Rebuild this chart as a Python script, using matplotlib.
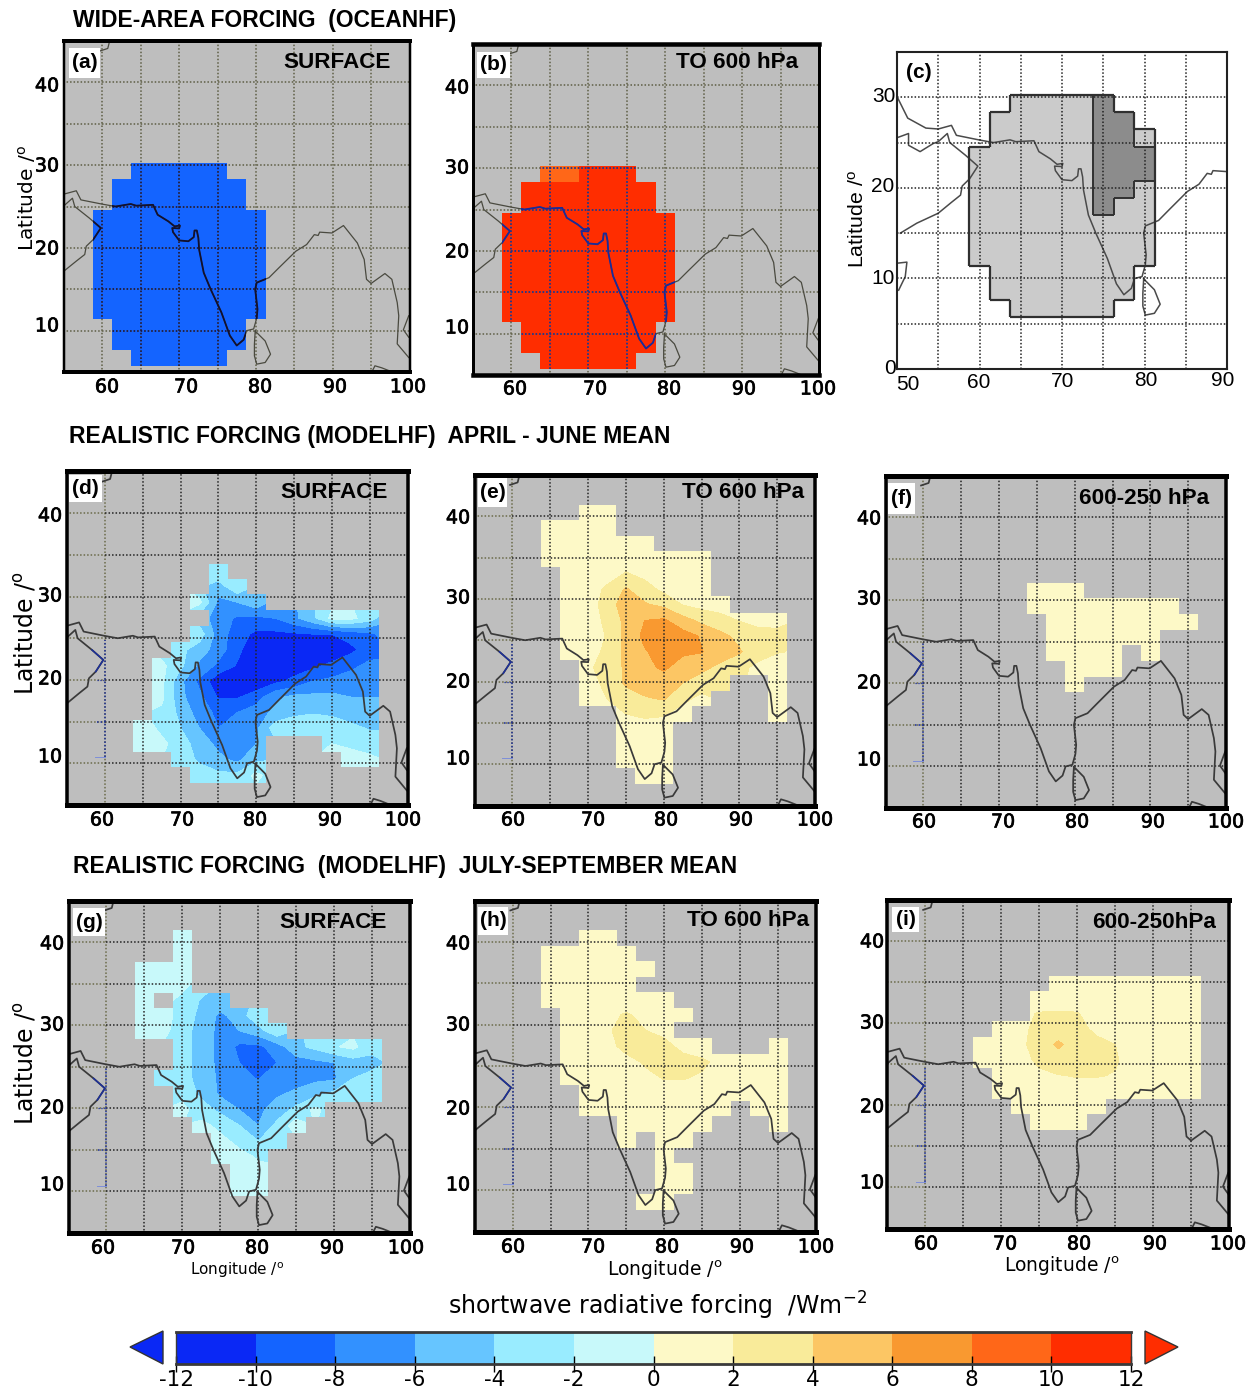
"""Shortwave radiative forcing maps over South Asia: wide-area and realistic patterns."""

import matplotlib

matplotlib.use("Agg")
import matplotlib.patheffects as pe
import matplotlib.pyplot as plt
import numpy as np
from matplotlib.collections import LineCollection
from matplotlib.colors import BoundaryNorm, ListedColormap
from matplotlib.patches import Polygon, Rectangle
from matplotlib.path import Path
from matplotlib.transforms import Affine2D

W, H = 1257, 1393
_ = np.nan

LEVELS = [-12, -10, -8, -6, -4, -2, 0, 2, 4, 6, 8, 10, 12]
COLORS = [
    "#0A28F5", "#1464FF", "#3291FF", "#66C5FF", "#99ECFF", "#C8F9FA",
    "#FDF9C7", "#F9EB9A", "#FCC664", "#F99930", "#FF6718", "#FF2D00",
]
GREY = "#BEBEBE"

# model grid: columns 60..95E, rows north to south
LON_EDGES = [58.75, 61.25, 63.75, 66.25, 68.75, 71.25, 73.75, 76.25, 78.75, 81.25,
             83.75, 86.25, 88.75, 91.25, 93.75, 96.25]
LAT_EDGES = [41.4, 39.5, 37.65, 35.8, 33.9, 32.05, 30.3, 28.35, 26.45, 24.55, 22.65,
             20.75, 18.9, 17.0, 15.15, 13.3, 11.4, 9.5, 7.6, 5.7]

FIELD_A = [
    [_, _, _, _, _, _, _, _, _, _, _, _, _, _, _],
    [_, _, _, _, _, _, _, _, _, _, _, _, _, _, _],
    [_, _, _, _, _, _, _, _, _, _, _, _, _, _, _],
    [_, _, _, _, _, _, _, _, _, _, _, _, _, _, _],
    [_, _, _, _, _, _, _, _, _, _, _, _, _, _, _],
    [_, _, _, _, _, _, _, _, _, _, _, _, _, _, _],
    [_, _, -9, -9, -9, -9, -9, _, _, _, _, _, _, _, _],
    [_, -9, -9, -9, -9, -9, -9, -9, _, _, _, _, _, _, _],
    [_, -9, -9, -9, -9, -9, -9, -9, _, _, _, _, _, _, _],
    [-9, -9, -9, -9, -9, -9, -9, -9, -9, _, _, _, _, _, _],
    [-9, -9, -9, -9, -9, -9, -9, -9, -9, _, _, _, _, _, _],
    [-9, -9, -9, -9, -9, -9, -9, -9, -9, _, _, _, _, _, _],
    [-9, -9, -9, -9, -9, -9, -9, -9, -9, _, _, _, _, _, _],
    [-9, -9, -9, -9, -9, -9, -9, -9, -9, _, _, _, _, _, _],
    [-9, -9, -9, -9, -9, -9, -9, -9, -9, _, _, _, _, _, _],
    [-9, -9, -9, -9, -9, -9, -9, -9, -9, _, _, _, _, _, _],
    [_, -9, -9, -9, -9, -9, -9, -9, _, _, _, _, _, _, _],
    [_, -9, -9, -9, -9, -9, -9, -9, _, _, _, _, _, _, _],
    [_, _, -9, -9, -9, -9, -9, _, _, _, _, _, _, _, _],
]
FIELD_B = [
    [_, _, _, _, _, _, _, _, _, _, _, _, _, _, _],
    [_, _, _, _, _, _, _, _, _, _, _, _, _, _, _],
    [_, _, _, _, _, _, _, _, _, _, _, _, _, _, _],
    [_, _, _, _, _, _, _, _, _, _, _, _, _, _, _],
    [_, _, _, _, _, _, _, _, _, _, _, _, _, _, _],
    [_, _, _, _, _, _, _, _, _, _, _, _, _, _, _],
    [_, _, 9, 9, 11, 11, 11, _, _, _, _, _, _, _, _],
    [_, 11, 11, 11, 11, 11, 11, 11, _, _, _, _, _, _, _],
    [_, 11, 11, 11, 11, 11, 11, 11, _, _, _, _, _, _, _],
    [11, 11, 11, 11, 11, 11, 11, 11, 11, _, _, _, _, _, _],
    [11, 11, 11, 11, 11, 11, 11, 11, 11, _, _, _, _, _, _],
    [11, 11, 11, 11, 11, 11, 11, 11, 11, _, _, _, _, _, _],
    [11, 11, 11, 11, 11, 11, 11, 11, 11, _, _, _, _, _, _],
    [11, 11, 11, 11, 11, 11, 11, 11, 11, _, _, _, _, _, _],
    [11, 11, 11, 11, 11, 11, 11, 11, 11, _, _, _, _, _, _],
    [11, 11, 11, 11, 11, 11, 11, 11, 11, _, _, _, _, _, _],
    [_, 11, 11, 11, 11, 11, 11, 11, _, _, _, _, _, _, _],
    [_, 11, 11, 11, 11, 11, 11, 11, _, _, _, _, _, _, _],
    [_, _, 11, 11, 11, 11, 11, _, _, _, _, _, _, _, _],
]
# 1 = wide area, 2 = core area
AREA_C = [
    [_, _, _, _, _, _, _, _, _, _, _, _, _, _, _],
    [_, _, _, _, _, _, _, _, _, _, _, _, _, _, _],
    [_, _, _, _, _, _, _, _, _, _, _, _, _, _, _],
    [_, _, _, _, _, _, _, _, _, _, _, _, _, _, _],
    [_, _, _, _, _, _, _, _, _, _, _, _, _, _, _],
    [_, _, _, _, _, _, _, _, _, _, _, _, _, _, _],
    [_, _, 1, 1, 1, 1, 2, _, _, _, _, _, _, _, _],
    [_, 1, 1, 1, 1, 1, 2, 2, _, _, _, _, _, _, _],
    [_, 1, 1, 1, 1, 1, 2, 2, 1, _, _, _, _, _, _],
    [1, 1, 1, 1, 1, 1, 2, 2, 2, _, _, _, _, _, _],
    [1, 1, 1, 1, 1, 1, 2, 2, 2, _, _, _, _, _, _],
    [1, 1, 1, 1, 1, 1, 2, 2, 1, _, _, _, _, _, _],
    [1, 1, 1, 1, 1, 1, 2, 1, 1, _, _, _, _, _, _],
    [1, 1, 1, 1, 1, 1, 1, 1, 1, _, _, _, _, _, _],
    [1, 1, 1, 1, 1, 1, 1, 1, 1, _, _, _, _, _, _],
    [1, 1, 1, 1, 1, 1, 1, 1, 1, _, _, _, _, _, _],
    [_, 1, 1, 1, 1, 1, 1, 1, _, _, _, _, _, _, _],
    [_, 1, 1, 1, 1, 1, 1, 1, _, _, _, _, _, _, _],
    [_, _, 1, 1, 1, 1, 1, _, _, _, _, _, _, _, _],
]
FIELD_D = [
    [_, _, _, _, _, _, _, _, _, _, _, _, _, _, _],
    [_, _, _, _, _, _, _, _, _, _, _, _, _, _, _],
    [_, _, _, _, _, _, _, _, _, _, _, _, _, _, _],
    [_, _, _, _, _, _, _, _, _, _, _, _, _, _, _],
    [_, _, _, _, _, _, -2.5, _, _, _, _, _, _, _, _],
    [_, _, _, _, _, _, -5, -2.5, _, _, _, _, _, _, _],
    [_, _, _, _, _, -1.5, -6.5, -6, -4.5, _, _, _, _, _, _],
    [_, _, _, _, _, _, -7, -8.3, -8.5, -8, -6.5, -4.5, -1.5, -1.5, -3],
    [_, _, _, _, _, -3, -7, -9, -10.5, -10.5, -10.3, -10, -10, -9.2, -8.5],
    [_, _, _, _, -3.5, -5, -7, -9.5, -11.5, -11.5, -11.5, -11.5, -11.5, -10.5, -9],
    [_, _, _, -1.5, -3.5, -6.5, -8.5, -10.2, -11.5, -11.5, -11, -10.5, -9.5, -8.5, -7.5],
    [_, _, _, -1.5, -5.5, -8.5, -11.5, -11.5, -11.5, -10.5, -9.5, -8, -7.5, -7, -6.5],
    [_, _, _, -1.5, -5.5, -7.5, -10.2, -10.2, -9, -6.5, -5.5, -5.5, -5.5, -6, -6],
    [_, _, _, -2.5, -4.5, -7, -8.5, -8, -7, -5.5, -4.5, -4.2, -4.5, -5, -5.5],
    [_, _, -1, -2.5, -4, -6, -8, -7.5, -6.5, -3, -2.5, -2, -2.5, -3.5, -4.2],
    [_, _, -1, -1.5, -3, -5, -6.5, -7, -6, _, _, _, -2, -2.5, -3],
    [_, _, _, _, -2.5, -4.5, -5.5, -6.5, -4.5, _, _, _, _, -1, -1.5],
    [_, _, _, _, _, -2.5, -3.5, -3.5, -1.5, _, _, _, _, _, _],
    [_, _, _, _, _, _, _, _, _, _, _, _, _, _, _],
]
FIELD_E = [
    [_, _, _, _, 0.5, 0.5, _, _, _, _, _, _, _, _, _],
    [_, _, 1, 1, 1, 1, _, _, _, _, _, _, _, _, _],
    [_, _, 1, 1, 1, 1, 1, 1, _, _, _, _, _, _, _],
    [_, _, 0.8, 0.8, 0.8, 0.8, 1, 0.8, 0.8, 0.8, 0.8, _, _, _, _],
    [_, _, _, 0.5, 0.8, 1, 2.2, 1.5, 1, 0.8, 0.5, _, _, _, _],
    [_, _, _, 0.5, 0.8, 2.4, 4.2, 2.8, 1.5, 1, 0.8, _, _, _, _],
    [_, _, _, 0.5, 0.8, 3, 5, 4.2, 3.5, 1.9, 1.3, 1, _, _, _],
    [_, _, _, 0.5, 0.8, 2.5, 4.5, 6, 6.3, 4.8, 3.5, 2.8, 1.9, 1.5, 1.5],
    [_, _, _, 0.5, 1, 2.1, 4.5, 6.5, 7.5, 6.8, 5.8, 4.5, 3.5, 2.6, 2.5],
    [_, _, _, 0.5, 1, 2.5, 4.5, 5.8, 7, 6.3, 6.1, 5, 4.2, 2.8, 2.1],
    [_, _, _, _, 1.5, 3.2, 4.2, 5.5, 6.3, 5.2, 4.5, 3.5, 2.5, 1.5, 1],
    [_, _, _, _, 1.2, 2.5, 4.3, 5, 5, 4, 3, 2, _, _, 0.5],
    [_, _, _, _, 0.8, 2, 3, 3.8, 4.2, 2.5, 1.5, _, _, _, 0.5],
    [_, _, _, _, _, _, 2, 2.4, 2.2, 1.2, _, _, _, _, 0.4],
    [_, _, _, _, _, _, 1, 1, 1, _, _, _, _, _, _],
    [_, _, _, _, _, _, 1, 1, 0.8, _, _, _, _, _, _],
    [_, _, _, _, _, _, 0.8, 0.8, 0.8, _, _, _, _, _, _],
    [_, _, _, _, _, _, _, 0.5, 0.5, _, _, _, _, _, _],
    [_, _, _, _, _, _, _, _, _, _, _, _, _, _, _],
]
FIELD_F = [
    [_, _, _, _, _, _, _, _, _, _, _, _, _, _, _],
    [_, _, _, _, _, _, _, _, _, _, _, _, _, _, _],
    [_, _, _, _, _, _, _, _, _, _, _, _, _, _, _],
    [_, _, _, _, _, _, _, _, _, _, _, _, _, _, _],
    [_, _, _, _, _, _, _, _, _, _, _, _, _, _, _],
    [_, _, _, _, _, _, 1, 1, 1, _, _, _, _, _, _],
    [_, _, _, _, _, _, 1, 1, 1, 1, 1, 1, 1, 1, _],
    [_, _, _, _, _, _, _, 1, 1, 1, 1, 1, 1, 1, 1],
    [_, _, _, _, _, _, _, 1, 1, 1, 1, 1, 1, _, _],
    [_, _, _, _, _, _, _, 1, 1, 1, 1, _, 1, _, _],
    [_, _, _, _, _, _, _, _, 1, 1, 1, _, _, _, _],
    [_, _, _, _, _, _, _, _, 1, _, _, _, _, _, _],
    [_, _, _, _, _, _, _, _, _, _, _, _, _, _, _],
    [_, _, _, _, _, _, _, _, _, _, _, _, _, _, _],
    [_, _, _, _, _, _, _, _, _, _, _, _, _, _, _],
    [_, _, _, _, _, _, _, _, _, _, _, _, _, _, _],
    [_, _, _, _, _, _, _, _, _, _, _, _, _, _, _],
    [_, _, _, _, _, _, _, _, _, _, _, _, _, _, _],
    [_, _, _, _, _, _, _, _, _, _, _, _, _, _, _],
]
FIELD_G = [
    [_, _, _, _, -1, _, _, _, _, _, _, _, _, _, _],
    [_, _, _, _, -1, _, _, _, _, _, _, _, _, _, _],
    [_, _, -1, -1, -1, _, _, _, _, _, _, _, _, _, _],
    [_, _, -1, -1, -1.5, _, _, _, _, _, _, _, _, _, _],
    [_, _, -1, _, -2.5, -4.2, -4.5, _, _, _, _, _, _, _, _],
    [_, _, -1, -1, -3, -4.5, -6.5, -5, -2.5, _, _, _, _, _, _],
    [_, _, -1, -1.5, -3, -5, -6.5, -6, -4.8, -2.5, _, _, _, _, _],
    [_, _, _, _, -3, -5, -6.5, -8.5, -8.5, -7, -4.5, -3.5, -2.2, -1.5, -3.5],
    [_, _, _, _, -3, -5, -6.5, -8, -9, -8, -7, -6.5, -6, -5, -4.5],
    [_, _, _, -2.5, -3.5, -4.5, -6.5, -7.5, -8.1, -7, -7, -6.5, -6.3, -4, -3.5],
    [_, _, _, _, -2.5, -4.5, -6.3, -7.5, -7, -6.3, -5.5, -4.5, -3.5, -3, -2],
    [_, _, _, _, -1.5, -3, -4.5, -6, -6.5, -5, -3.5, -1.5, _, _, _],
    [_, _, _, _, _, -1.5, -2.5, -4, -6, -3.5, -1, _, _, _, _],
    [_, _, _, _, _, _, -1.5, -2.5, -4, -2.5, _, _, _, _, _],
    [_, _, _, _, _, _, -1, -1.5, -2.2, _, _, _, _, _, _],
    [_, _, _, _, _, _, _, -1.2, -1.5, _, _, _, _, _, _],
    [_, _, _, _, _, _, _, -1, -1, _, _, _, _, _, _],
    [_, _, _, _, _, _, _, _, _, _, _, _, _, _, _],
    [_, _, _, _, _, _, _, _, _, _, _, _, _, _, _],
]
FIELD_H = [
    [_, _, _, _, 1, 1, _, _, _, _, _, _, _, _, _],
    [_, _, 1, 1, 1, 1, 1, _, _, _, _, _, _, _, _],
    [_, _, 1, 1, 1, 1, 1, 1, _, _, _, _, _, _, _],
    [_, _, 1, 1, 1.5, 1, 1, _, _, _, _, _, _, _, _],
    [_, _, 1, 1, 1, 1, 1, 1, 1, _, _, _, _, _, _],
    [_, _, _, 1, 1, 1.5, 2.2, 1.5, 1, 1, _, _, _, _, _],
    [_, _, _, 1, 1, 1.8, 2.6, 2, 1.5, _, _, _, _, _, _],
    [_, _, _, 1, 1, 1.5, 2.5, 2.6, 2.5, 1.5, 1, _, _, _, 1],
    [_, _, _, 1, 1, 1.2, 1.5, 2.2, 2.5, 2.6, 2.3, 1.5, 1, 1, 1],
    [_, _, _, 1, 1, 1, 1.2, 1.6, 2.1, 2.1, 1.8, 1.2, 1.5, 1, 1],
    [_, _, _, _, 1, 1, 1, 1.2, 1.4, 1.3, 1, 1, 1, 1, 1],
    [_, _, _, _, 1, 1, 1, 1, 1, 1, 1, 1, _, 1, 1],
    [_, _, _, _, _, _, 1, 1, 1, 1, 1, _, _, _, 1],
    [_, _, _, _, _, _, 1, _, 1, 1, _, _, _, _, _],
    [_, _, _, _, _, _, _, _, 1, _, _, _, _, _, _],
    [_, _, _, _, _, _, _, _, 1, 1, _, _, _, _, _],
    [_, _, _, _, _, _, _, _, 1, 1, _, _, _, _, _],
    [_, _, _, _, _, _, _, 1, 1, _, _, _, _, _, _],
    [_, _, _, _, _, _, _, _, _, _, _, _, _, _, _],
]
FIELD_I = [
    [_, _, _, _, _, _, _, _, _, _, _, _, _, _, _],
    [_, _, _, _, _, _, _, _, _, _, _, _, _, _, _],
    [_, _, _, _, _, _, _, _, _, _, _, _, _, _, _],
    [_, _, _, _, _, _, _, 1, 1, 1, 1, 1, 1, 1, 1],
    [_, _, _, _, _, _, 1, 1, 1, 1, 1, 1, 1, 1, 1],
    [_, _, _, _, _, _, 2.1, 2.2, 2.1, 1.2, 1, 1, 1, 1, 1],
    [_, _, _, _, 1, 1.4, 2.7, 3, 2.6, 1.6, 1.2, 1, 1, 1, 1],
    [_, _, _, 1, 1, 1.5, 3, 4.3, 3.2, 2.5, 2, 1.2, 1, 1, 1],
    [_, _, _, 1, 1, 1.3, 2.4, 3.2, 3.2, 2.9, 2.2, 1.2, 1, 1, 1],
    [_, _, _, _, 1, 1.2, 1.6, 1.9, 2.1, 2.1, 1.9, 1, 1, 1, 1],
    [_, _, _, _, 1, 1, 1, 1.2, 1.3, 1.2, 1, 1, 1, 1, 1],
    [_, _, _, _, _, 1, 1, 1, 1, 1, _, _, _, _, _],
    [_, _, _, _, _, _, 1, 1, 1, _, _, _, _, _, _],
    [_, _, _, _, _, _, _, _, _, _, _, _, _, _, _],
    [_, _, _, _, _, _, _, _, _, _, _, _, _, _, _],
    [_, _, _, _, _, _, _, _, _, _, _, _, _, _, _],
    [_, _, _, _, _, _, _, _, _, _, _, _, _, _, _],
    [_, _, _, _, _, _, _, _, _, _, _, _, _, _, _],
    [_, _, _, _, _, _, _, _, _, _, _, _, _, _, _],
]

# coastlines as (lon, lat)
COAST_IRAN = [(50.1, 29.9), (51.3, 27.7), (53.5, 26.6), (55.0, 26.5), (56.6, 26.9),
              (57.2, 25.8), (59.9, 25.3), (61.7, 25.0), (63.7, 25.3), (64.4, 25.1), (66.6, 25.2),
              (67.2, 24.0), (68.6, 23.2), (69.4, 22.6), (70.1, 22.7), (70.0, 22.35), (69.1, 22.4),
              (69.2, 21.9), (70.0, 20.9), (71.2, 20.8), (71.9, 21.3), (72.0, 22.1), (72.3, 22.1), (72.5, 21.2),
              (72.6, 19.8), (73.2, 17.0), (74.1, 15.0), (75.5, 12.2), (76.6, 9.4),
              (77.5, 8.2), (78.4, 8.9), (78.8, 10.0), (79.7, 10.2), (80.1, 11.5), (80.2, 12.6),
              (79.9, 15.0), (80.1, 15.8), (81.7, 16.4), (83.0, 17.6), (85.2, 19.6),
              (86.6, 20.4), (87.6, 21.6), (88.1, 21.5), (88.3, 21.9), (89.9, 21.8),
              (91.4, 22.7), (93.2, 20.6), (94.1, 18.6), (94.4, 16.2), (95.0, 15.7),
              (96.8, 16.9), (97.7, 16.2), (98.4, 13.4), (98.6, 11.8), (98.4, 8.4),
              (99.9, 6.75)]
COAST_ARABIA = [(50.2, 25.6), (51.4, 26.0), (51.4, 24.7), (52.8, 24.0), (54.4, 24.9),
                (55.0, 25.1), (56.1, 26.0), (56.4, 25.0), (58.3, 23.6), (59.8, 22.4),
                (58.8, 21.0), (57.9, 20.2), (57.7, 19.2), (56.6, 18.4), (55.0, 17.2),
                (52.4, 16.1), (50.4, 15.0)]
SRI_LANKA = [(79.9, 9.95), (81.2, 8.75), (81.9, 7.15), (81.2, 6.15), (80.1, 5.95),
             (79.8, 6.95), (79.8, 8.35), (79.9, 9.95)]
COAST_TOP = [(61.0, 45.2), (60.7, 44.1), (59.7, 43.8)]
COAST_SOMALIA = [(50.2, 11.7), (51.2, 11.8), (51.0, 10.2), (50.2, 8.7)]
COAST_SE = [(95.2, 5.2), (95.5, 5.75), (96.4, 5.5), (97.5, 5.1)]
COAST_THAI = [(99.9, 11.8), (99.2, 10.1), (99.9, 9.2)]

# panel tables, all pixel positions measured from top left of the figure
PANEL_BOX = {
    "a": (64, 41, 409.5, 372), "b": (473, 44, 819, 375), "c": (897, 52, 1227, 369),
    "d": (67, 471.5, 407.5, 805), "e": (474.5, 475, 815, 805.5),
    "f": (885.5, 475.5, 1226, 808), "g": (68.5, 900.5, 410, 1233),
    "h": (474.7, 900.5, 816, 1231.5), "i": (887.5, 900, 1229, 1228.5),
}
X_LABELS = [60, 70, 80, 90, 100]
Y_LABELS = [40, 30, 20, 10]
X_LABEL_POS = {
    "a": ([107, 186, 260, 335, 408], 387), "b": ([515, 595, 669, 744, 818], 389),
    "d": ([102, 182, 255, 330, 403], 820), "e": ([513, 593, 666, 741, 815], 820),
    "f": ([924, 1003, 1077, 1153, 1226], 822), "g": ([103, 183, 257, 332, 406], 1248),
    "h": ([513, 593, 667, 742, 816], 1247), "i": ([926, 1005, 1079, 1155, 1228], 1244),
}
Y_LABEL_POS = {
    "a": (47, [86, 166, 249, 326]), "b": (457, [88, 168, 252, 328]),
    "d": (50, [516, 596, 679, 757]), "e": (458, [518, 598, 682, 759]),
    "f": (869, [519, 599, 683, 760]), "g": (52, [944, 1025, 1108, 1185]),
    "h": (458, [944, 1025, 1109, 1185]), "i": (872, [942, 1023, 1107, 1183]),
}
LETTER_BOX = {
    "a": (69, 48, 100, 78), "b": (477, 52, 510, 78), "d": (69, 475, 102, 502),
    "e": (478, 478, 507, 507), "f": (888, 483, 915, 514), "g": (73, 908, 105, 936),
    "h": (478, 907, 508, 935), "i": (892, 907, 919, 932),
}
HEADINGS = {
    "a": ("SURFACE", 337, 63), "b": ("TO 600 hPa", 737, 62), "d": ("SURFACE", 334, 493),
    "e": ("TO 600 hPa", 743, 493), "f": ("600-250 hPa", 1144, 498),
    "g": ("SURFACE", 333, 923), "h": ("TO 600 hPa", 748, 921), "i": ("600-250hPa", 1154, 923),
}
ROW_TITLES = [
    ("WIDE-AREA FORCING  (OCEANHF)", 73, 20),
    ("REALISTIC FORCING (MODELHF)  APRIL - JUNE MEAN", 69, 437),
    ("REALISTIC FORCING  (MODELHF)  JULY-SEPTEMBER MEAN", 73, 866),
]

plt.rcParams["font.family"] = ["DejaVu Sans"]
fig = plt.figure(figsize=(W / 100, H / 100), dpi=100)
cmap = ListedColormap(COLORS)
norm = BoundaryNorm(LEVELS, cmap.N)
GRID_STYLE = (0, (1.0, 1.3))


def px_text(x, y, s, **kw):
    kw.setdefault("ha", "center")
    kw.setdefault("va", "center")
    return fig.text(x / W, 1 - y / H, s, **kw)


def px_axes(x0, y0, x1, y1):
    return fig.add_axes([x0 / W, 1 - y1 / H, (x1 - x0) / W, (y1 - y0) / H])


def cell_path(rows):
    """Union of the filled grid cells, used to clip overlays to the forcing area."""
    z = np.array(rows, float)
    parts = []
    for j, i in zip(*np.nonzero(~np.isnan(z))):
        parts.append(Path.unit_rectangle().transformed(
            Affine2D()
            .scale(LON_EDGES[i + 1] - LON_EDGES[i], LAT_EDGES[j] - LAT_EDGES[j + 1])
            .translate(LON_EDGES[i], LAT_EDGES[j + 1])
        ))
    return Path.make_compound_path(*parts)


def block_edges(mask):
    """Line segments around the cells that are True."""
    m = np.pad(mask, 1, constant_values=False)
    lon = LON_EDGES
    lat = LAT_EDGES
    segs = []
    for j in range(mask.shape[0]):
        for i in range(mask.shape[1]):
            if not m[j + 1, i + 1]:
                continue
            if not m[j, i + 1]:
                segs.append([(lon[i], lat[j]), (lon[i + 1], lat[j])])
            if not m[j + 2, i + 1]:
                segs.append([(lon[i], lat[j + 1]), (lon[i + 1], lat[j + 1])])
            if not m[j + 1, i]:
                segs.append([(lon[i], lat[j]), (lon[i], lat[j + 1])])
            if not m[j + 1, i + 2]:
                segs.append([(lon[i + 1], lat[j]), (lon[i + 1], lat[j + 1])])
    return segs


def draw_coast(ax, color, lw, clip=None, zorder=5):
    for line in (COAST_IRAN, COAST_ARABIA, SRI_LANKA, COAST_TOP, COAST_SOMALIA, COAST_SE, COAST_THAI):
        xy = np.array(line)
        art, = ax.plot(xy[:, 0], xy[:, 1], color=color, lw=lw, zorder=zorder, solid_joinstyle="round")
        if clip is not None:
            art.set_clip_path(clip, ax.transData)


def draw_grid(ax, color, left_color=None, lw=1.1, clip=None, zorder=4):
    arts = []
    for lon in range(60, 100, 5):
        c = left_color if (left_color and lon == 60) else color
        arts += ax.plot([lon, lon], [4, 46], color=c, lw=lw, ls=GRID_STYLE, zorder=zorder)
    for lat in range(10, 45, 5):
        arts += ax.plot([60, 101], [lat, lat], color=color, lw=lw, ls=GRID_STYLE, zorder=zorder)
        arts += ax.plot([54, 60], [lat, lat], color=left_color or color, lw=lw, ls=GRID_STYLE, zorder=zorder)
    if clip is not None:
        for art in arts:
            art.set_clip_path(clip, ax.transData)


def smooth_field(ax, rows):
    """Filled bands on the cell centres, with land outside the area greyed over."""
    z = np.pad(np.array(rows, float), 1, constant_values=np.nan)
    missing = np.isnan(z)
    filled = z.copy()
    # hidden cells only: give them neighbour values so bands run out to the cell edge
    while np.isnan(filled).any():
        known = ~np.isnan(filled)
        total = np.zeros_like(filled)
        count = np.zeros_like(filled)
        for dj in (-1, 0, 1):
            for di in (-1, 0, 1):
                total += np.roll(np.roll(np.nan_to_num(filled), dj, 0), di, 1)
                count += np.roll(np.roll(known, dj, 0), di, 1)
        with np.errstate(invalid="ignore", divide="ignore"):
            guess = total / count
        filled = np.where(known, filled, guess)
    lon_e = np.array(LON_EDGES)
    lat_e = np.array(LAT_EDGES)
    lon_pad = np.r_[lon_e[0] - 2.5, lon_e, lon_e[-1] + 2.5]
    lat_pad = np.r_[lat_e[0] + 1.875, lat_e, lat_e[-1] - 1.875]
    lon_c = (lon_pad[:-1] + lon_pad[1:]) / 2
    lat_c = (lat_pad[:-1] + lat_pad[1:]) / 2
    ax.contourf(lon_c, lat_c, filled, levels=LEVELS, colors=COLORS, zorder=1, antialiased=False)
    cover = np.ma.masked_where(~missing, np.ones_like(filled))
    ax.pcolormesh(lon_pad, lat_pad, cover, cmap=ListedColormap([GREY]), zorder=2)


def block_field(ax, rows):
    ax.pcolormesh(LON_EDGES, LAT_EDGES, np.ma.masked_invalid(np.array(rows, float)),
                  cmap=cmap, norm=norm, zorder=2)


def draw_map_panel(key, rows, blocky=False, lw_side=3.5, lw_tb=5.0):
    ax = px_axes(*PANEL_BOX[key])
    ax.set_facecolor(GREY)
    ax.set_xlim(55, 100)
    ax.set_ylim(5, 45)
    ax.set_xticks([])
    ax.set_yticks([])
    for side, sp in ax.spines.items():
        sp.set_linewidth((lw_tb if side in ("top", "bottom") else lw_side) * 0.72)
        sp.set_zorder(8)

    if blocky:
        block_field(ax, rows)
        draw_grid(ax, "#5E5E45")
        draw_coast(ax, "#4A4A40", 0.9)
        clip = cell_path(rows)
        inner = "#10104A" if key == "a" else "#1A2A9A"
        draw_grid(ax, inner, clip=clip, zorder=4.5)
        draw_coast(ax, inner if key == "b" else "#101030", 1.3, clip=clip, zorder=6)
    else:
        smooth_field(ax, rows)
        draw_grid(ax, "#242424", left_color="#6B6B4A")
        draw_coast(ax, "#3A3A3A", 1.25)
        # stray blue marks around 60E
        ax.plot([60, 60], [10.7, 24.8], color="#1C2F9A", lw=1.1, ls=GRID_STYLE, zorder=5)
        ax.plot([58.9, 60], [20, 20], color="#1C2F9A", lw=0.9, ls=GRID_STYLE, zorder=5)
        ax.plot([58.9, 60], [15, 15], color="#1C2F9A", lw=1.1, ls=GRID_STYLE, zorder=5)
        ax.plot([58.7, 60], [10.7, 10.7], color="#7E8FD8", lw=0.7, zorder=5)
        xy = np.array(COAST_ARABIA[8:11])
        ax.plot(xy[:, 0], xy[:, 1], color="#1C2F9A", lw=1.1, zorder=6)

    x0, y0, x1, y1 = LETTER_BOX[key]
    fig.add_artist(Rectangle((x0 / W, 1 - y1 / H), (x1 - x0) / W, (y1 - y0) / H,
                             transform=fig.transFigure, facecolor="white", edgecolor="none", zorder=9))
    px_text((x0 + x1) / 2, (y0 + y1) / 2, f"({key})", fontsize=15, fontweight="bold",
            family="Liberation Sans", zorder=10)
    text, hx, hy = HEADINGS[key]
    px_text(hx, hy, text, fontsize=16.2, fontweight="bold", family="Liberation Sans", zorder=10)

    xs, xy_pos = X_LABEL_POS[key]
    stroke = [pe.withStroke(linewidth=0.5, foreground="black")]
    for val, x in zip(X_LABELS, xs):
        px_text(x, xy_pos, str(val), fontsize=13.7, path_effects=stroke)
    yx, ys = Y_LABEL_POS[key]
    for val, y in zip(Y_LABELS, ys):
        px_text(yx, y, str(val), fontsize=13.7, path_effects=stroke)
    return ax


def draw_area_panel():
    ax = px_axes(*PANEL_BOX["c"])
    ax.set_facecolor("white")
    ax.set_xlim(50, 90)
    ax.set_ylim(0, 35)
    ax.set_xticks([])
    ax.set_yticks([])
    for sp in ax.spines.values():
        sp.set_linewidth(1.5)
        sp.set_color("#222222")
        sp.set_zorder(8)
    z = np.array(AREA_C, float)
    ax.pcolormesh(LON_EDGES, LAT_EDGES, np.ma.masked_invalid(z),
                  cmap=ListedColormap(["#CBCBCB", "#8C8C8C"]), vmin=0.5, vmax=2.5, zorder=1)
    draw_coast(ax, "#4A4A4A", 1.1, zorder=3)
    for lon in range(55, 90, 5):
        ax.plot([lon, lon], [0, 35], color="#222222", lw=1.1, ls=GRID_STYLE, zorder=4)
    for lat in range(5, 35, 5):
        ax.plot([50, 90], [lat, lat], color="#222222", lw=1.1, ls=GRID_STYLE, zorder=4)
    ax.add_collection(LineCollection(block_edges(~np.isnan(z)), colors="#303030", linewidths=1.6, zorder=5))
    ax.add_collection(LineCollection(block_edges(z == 2), colors="#303030", linewidths=1.4, zorder=5))
    for txt, x, y in [("50", 908, 384), ("60", 979, 382), ("70", 1063, 381), ("80", 1146, 380), ("90", 1223, 380),
                      ("30", 884, 97), ("20", 883, 187), ("10", 883, 279), ("0", 890, 368)]:
        px_text(x, y, txt, fontsize=15, family="Liberation Sans")
    px_text(919, 72, "(c)", fontsize=15, fontweight="bold", family="Liberation Sans", zorder=10)
    px_text(858, 219, "Latitude /$\\mathregular{^{o}}$", fontsize=15.4, rotation=90, family="Liberation Sans")


def draw_colorbar():
    ax = px_axes(176, 1332, 1131, 1364)
    ax.pcolormesh(LEVELS, [0, 1], [[(a + b) / 2 for a, b in zip(LEVELS[:-1], LEVELS[1:])]], cmap=cmap, norm=norm)
    ax.set_xlim(-12, 12)
    ax.set_ylim(0, 1)
    ax.set_yticks([])
    ax.set_xticks(LEVELS)
    ax.set_xticklabels([])
    ax.tick_params(axis="x", direction="inout", length=11, width=1.0)
    for side, sp in ax.spines.items():
        sp.set_linewidth(2.0 if side in ("top", "bottom") else 1.0)
        sp.set_color("#3A3A3A")
    for val, x in zip(LEVELS, np.linspace(176, 1131, len(LEVELS))):
        px_text(x, 1380, str(val), fontsize=15.5)
    left = [(130, 1347), (163, 1331), (163, 1364)]
    right = [(1178, 1347), (1145, 1331), (1145, 1364)]
    for pts, color in ((left, COLORS[0]), (right, COLORS[-1])):
        fig.add_artist(Polygon([(x / W, 1 - y / H) for x, y in pts], closed=True, transform=fig.transFigure,
                               facecolor=color, edgecolor="#333333", linewidth=1.0))
    px_text(657, 1306, "shortwave radiative forcing  /Wm$\\mathregular{^{-2}}$", fontsize=17)


draw_map_panel("a", FIELD_A, blocky=True, lw_side=2.5, lw_tb=4.0)
draw_map_panel("b", FIELD_B, blocky=True, lw_side=3.0, lw_tb=4.5)
draw_area_panel()
draw_map_panel("d", FIELD_D)
draw_map_panel("e", FIELD_E)
draw_map_panel("f", FIELD_F)
draw_map_panel("g", FIELD_G)
draw_map_panel("h", FIELD_H)
draw_map_panel("i", FIELD_I)
draw_colorbar()

for text, x, y in ROW_TITLES:
    px_text(x, y, text, ha="left", fontsize=16.5, fontweight="bold", family="Liberation Sans")

px_text(27, 198, "Latitude /$\\mathregular{^{o}}$", fontsize=14.5, rotation=90)
px_text(25, 633, "Latitude /$\\mathregular{^{o}}$", fontsize=17, rotation=90)
px_text(25, 1063, "Latitude /$\\mathregular{^{o}}$", fontsize=17, rotation=90)
px_text(237, 1270, "Longitude /$\\mathregular{^{o}}$", fontsize=11)
px_text(665, 1270, "Longitude /$\\mathregular{^{o}}$", fontsize=13.5)
px_text(1062, 1266, "Longitude /$\\mathregular{^{o}}$", fontsize=13.5)

fig.savefig("out.png", dpi=100)
